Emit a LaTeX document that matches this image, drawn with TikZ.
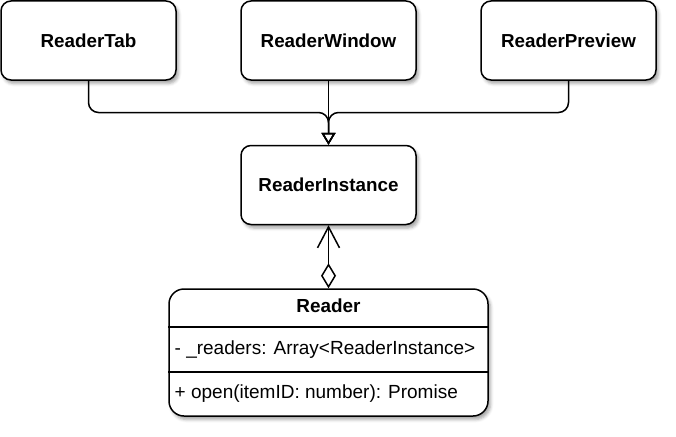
\documentclass[tikz,border=0pt]{standalone}
\usepackage{fontspec}
\setmainfont{Liberation Sans}
\usetikzlibrary{arrows.meta,shadows.blur}
\tikzset{
	box/.style={draw,fill=white,line width=1.5pt,rounded corners=10pt,
		minimum width=175pt,minimum height=79pt,
		font=\fontsize{18.8}{22}\selectfont\bfseries,
		blur shadow={shadow xshift=2.5pt,shadow yshift=-3.5pt,shadow blur radius=3pt,shadow opacity=35}},
	txt/.style={inner sep=0pt,font=\fontsize{19}{22}\selectfont},
	edge/.style={line width=1.5pt,rounded corners=10pt}
}
\begin{document}
\begin{tikzpicture}[x=1pt,y=-1pt]
\useasboundingbox (0,0) rectangle (676,436);
\coordinate (merge) at (328.5,112.5);
\foreach \n/\x/\t in {tab/88.5/ReaderTab,win/328.5/ReaderWindow,prev/568.5/ReaderPreview}
{
	\node[box] (\n) at (\x,40.5) {\t};
}
\node[box] (inst) at (328.5,185) {ReaderInstance};

% class box
\node[box,minimum width=319pt,minimum height=127pt,rounded corners=15pt] (reader) at (328.5,352.5) {};
\node[txt,font=\fontsize{18.9}{22}\selectfont\bfseries] (rname) at (328.5,306) {Reader};
\draw[line width=1.5pt] (reader.west |- 0,327) -- (reader.east |- 0,327);
\draw[line width=1.5pt] (reader.west |- 0,372) -- (reader.east |- 0,372);
\node[txt,anchor=west] (rattr) at (174.5,349.5) {- \_readers: Array<ReaderInstance>};
\node[txt,anchor=west] (rop) at (174.5,393.5) {+ open(itemID: number): Promise};

	\foreach \n in {tab,prev}
{
	\draw[edge,-{Triangle[open,length=12pt,width=14pt]}] (\n.south) |- (merge) -- (inst.north);
}
\draw[edge,-{Triangle[open,length=12pt,width=14pt]}] (win.south) -- (inst.north);
\draw[line width=1.5pt,{Diamond[open,length=25pt,width=15pt]}-{Straight Barb[length=21pt,width=22pt]}] (reader.north) -- (inst.south);
\end{tikzpicture}
\end{document}
